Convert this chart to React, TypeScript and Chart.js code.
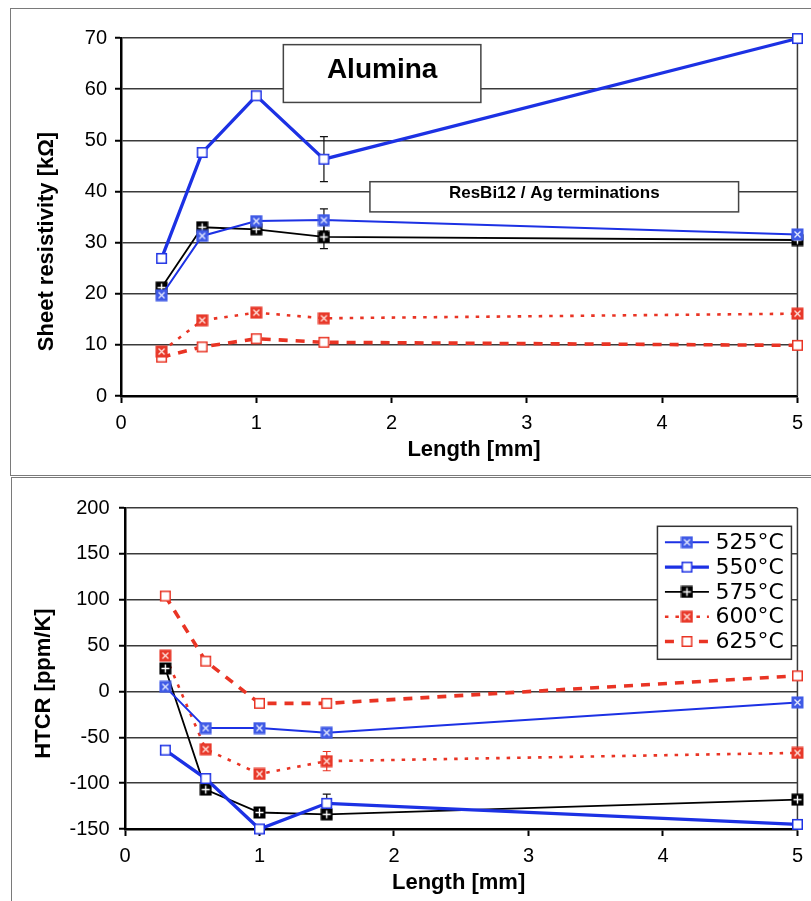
import React, { useEffect, useRef } from 'react';
import { Chart, registerables } from 'chart.js';

Chart.register(...registerables);

// ---------- data ----------
const lengths = [0.3, 0.6, 1, 1.5, 5];
const seriesLabels = ['525°C', '550°C', '575°C', '600°C', '625°C'];

const sheet525 = [19.7, 31.3, 34.2, 34.4, 31.6];
const sheet550 = [26.9, 47.6, 58.7, 46.3, 69.9];
const sheet575 = [21.2, 33.0, 32.6, 31.1, 30.5];
const sheet600 = [8.7, 14.8, 16.3, 15.2, 16.1];
const sheet625 = [7.6, 9.6, 11.2, 10.5, 9.9];

const sheetErr525 = [null, null, null, 2.2, null];
const sheetErr550 = [null, null, null, 4.4, null];
const sheetErr575 = [null, null, null, 2.3, null];
const sheetErr600 = [null, null, null, null, null];
const sheetErr625 = [null, null, null, null, null];

const htcr525 = [5, -40, -40, -45, -12];
const htcr550 = [-64, -95, -150, -122, -145];
const htcr575 = [25, -107, -132, -134, -118];
const htcr600 = [39, -63, -90, -76, -67];
const htcr625 = [104, 33, -13, -13, 17];

const htcrErr525 = [null, null, null, null, null];
const htcrErr550 = [null, null, null, 10, null];
const htcrErr575 = [null, null, null, null, null];
const htcrErr600 = [null, null, null, 10.5, null];
const htcrErr625 = [null, null, null, 4, null];

const xTickRange = { min: 0, max: 5, step: 1 };
const sheetTickRange = { min: 0, max: 70, step: 10 };
const htcrTickRange = { min: -150, max: 200, step: 50 };

const xTitle = 'Length [mm]';
const sheetTitle = 'Sheet resistivity [kΩ]';
const htcrTitle = 'HTCR [ppm/K]';
const topNotes = [
  { text: 'Alumina', x0: 1.2, x1: 2.66, y0: 57.4, y1: 68.7, size: 28 },
  { text: 'ResBi12 / Ag terminations', x0: 1.84, x1: 4.565, y0: 36.0, y1: 41.9, size: 17 },
];

// ---------- styles ----------
const BLUE = '#1c31e4';
const RED = '#e93424';
const BLACK = '#000000';
const FONT = '"Liberation Sans", Arial, Helvetica, sans-serif';
const LEGEND_FONT = '"DejaVu Sans", Verdana, sans-serif';

const seriesStyles = [
  { color: BLUE, width: 2, dash: [] as number[], marker: 'xbox', fill: '#3f5ae6', mark: '#e4e9ff', err: '#111' },
  { color: BLUE, width: 3.3, dash: [] as number[], marker: 'open', fill: '#fff', mark: BLUE, err: '#111' },
  { color: BLACK, width: 1.8, dash: [] as number[], marker: 'plus', fill: '#000', mark: '#fff', err: '#111' },
  { color: RED, width: 2.6, dash: [3.5, 7], marker: 'xbox', fill: '#e8392a', mark: '#ffe2dc', err: RED },
  { color: RED, width: 3.6, dash: [9, 8], marker: 'open', fill: '#fff', mark: RED, err: RED },
];

function makeMarker(kind: string, color: string, fill: string, mark: string) {
  const s = 13;
  const c = document.createElement('canvas');
  c.width = s;
  c.height = s;
  const g = c.getContext('2d')!;
  if (kind === 'open') {
    g.fillStyle = '#fff';
    g.fillRect(1, 1, 11, 11);
    g.strokeStyle = color;
    g.lineWidth = 1.5;
    g.strokeRect(1.75, 1.75, 9.5, 9.5);
  } else {
    g.fillStyle = fill;
    g.fillRect(0.5, 0.5, 12, 12);
    g.strokeStyle = mark;
    g.lineWidth = 1.4;
    g.beginPath();
    if (kind === 'xbox') {
      g.moveTo(3.5, 3.5); g.lineTo(9.5, 9.5);
      g.moveTo(9.5, 3.5); g.lineTo(3.5, 9.5);
    } else {
      g.moveTo(6.5, 2.5); g.lineTo(6.5, 10.5);
      g.moveTo(2.5, 6.5); g.lineTo(10.5, 6.5);
    }
    g.stroke();
  }
  return c;
}

// ---------- plugins ----------
const frameAndErrors = {
  id: 'frameAndErrors',
  beforeDatasetsDraw(chart: any) {
    const { ctx, chartArea } = chart;
    ctx.save();
    ctx.strokeStyle = '#3a3a3a';
    ctx.lineWidth = 1.5;
    ctx.beginPath();
    ctx.moveTo(chartArea.right, chartArea.top);
    ctx.lineTo(chartArea.right, chartArea.bottom);
    ctx.stroke();
    const yScale = chart.scales.y;
    chart.data.datasets.forEach((ds: any, i: number) => {
      const meta = chart.getDatasetMeta(i);
      (ds.errors || []).forEach((e: number | null, j: number) => {
        if (e == null) return;
        const pt = meta.data[j];
        const v = ds.data[j].y;
        const yt = yScale.getPixelForValue(v + e);
        const yb = yScale.getPixelForValue(v - e);
        ctx.strokeStyle = ds.errColor;
        ctx.lineWidth = 1.2;
        ctx.beginPath();
        ctx.moveTo(pt.x, yt); ctx.lineTo(pt.x, yb);
        ctx.moveTo(pt.x - 4, yt); ctx.lineTo(pt.x + 4, yt);
        ctx.moveTo(pt.x - 4, yb); ctx.lineTo(pt.x + 4, yb);
        ctx.stroke();
      });
    });
    ctx.restore();
  },
};

const notesPlugin = {
  id: 'notes',
  beforeDatasetsDraw(chart: any, _args: any, opts: any) {
    if (!opts || !opts.items) return;
    const { ctx } = chart;
    const xs = chart.scales.x;
    const ys = chart.scales.y;
    ctx.save();
    opts.items.forEach((n: any) => {
      const l = xs.getPixelForValue(n.x0);
      const r = xs.getPixelForValue(n.x1);
      const t = ys.getPixelForValue(n.y1);
      const b = ys.getPixelForValue(n.y0);
      ctx.fillStyle = '#fff';
      ctx.fillRect(l, t, r - l, b - t);
      ctx.strokeStyle = '#444';
      ctx.lineWidth = 1.5;
      ctx.strokeRect(l, t, r - l, b - t);
      ctx.fillStyle = '#000';
      ctx.font = `bold ${n.size}px ${FONT}`;
      ctx.textAlign = 'center';
      ctx.textBaseline = 'middle';
      ctx.fillText(n.text, (l + r) / 2, (t + b) / 2 - 3);
    });
    ctx.restore();
  },
};

const axisTitles = {
  id: 'axisTitles',
  afterDraw(chart: any, _args: any, opts: any) {
    if (!opts || !opts.x) return;
    const { ctx, chartArea } = chart;
    ctx.save();
    ctx.fillStyle = '#000';
    ctx.font = `bold 22px ${FONT}`;
    ctx.textAlign = 'center';
    ctx.textBaseline = 'middle';
    ctx.fillText(opts.x, opts.xCenter, chartArea.bottom + 53.5);
    ctx.translate(opts.yX, (chartArea.top + chartArea.bottom) / 2 + opts.yDy);
    ctx.rotate(-Math.PI / 2);
    ctx.fillText(opts.y, 0, 0);
    ctx.restore();
  },
};

const legendPlugin = {
  id: 'boxLegend',
  afterDatasetsDraw(chart: any, _args: any, opts: any) {
    if (!opts || !opts.show) return;
    const { ctx, chartArea } = chart;
    const w = 134;
    const h = 133;
    const right = chartArea.right - 6;
    const left = right - w;
    const top = chartArea.top + 18.3;
    ctx.save();
    ctx.fillStyle = '#fff';
    ctx.fillRect(left, top, w, h);
    ctx.strokeStyle = '#333';
    ctx.lineWidth = 1.5;
    ctx.strokeRect(left, top, w, h);
    chart.data.datasets.forEach((ds: any, i: number) => {
      const cy = top + 16 + i * 24.8;
      ctx.strokeStyle = ds.borderColor;
      ctx.lineWidth = ds.borderWidth;
      ctx.setLineDash(ds.borderDash || []);
      ctx.beginPath();
      ctx.moveTo(left + 7.5, cy);
      ctx.lineTo(left + 51.5, cy);
      ctx.stroke();
      ctx.setLineDash([]);
      const img = ds.pointStyle;
      ctx.drawImage(img, left + 29.5 - img.width / 2, cy - img.height / 2);
      ctx.fillStyle = '#000';
      ctx.font = `22px ${LEGEND_FONT}`;
      ctx.textAlign = 'left';
      ctx.textBaseline = 'middle';
      ctx.fillText(ds.label, left + 58, cy + 1);
    });
    ctx.restore();
  },
};

// ---------- config ----------
function makeDatasets(values: number[][], errors: (number | null)[][], markers: HTMLCanvasElement[]) {
  return values.map((vals, i) => ({
    label: seriesLabels[i],
    data: lengths.map((x, j) => ({ x, y: vals[j] })),
    errors: errors[i],
    errColor: seriesStyles[i].err,
    borderColor: seriesStyles[i].color,
    backgroundColor: seriesStyles[i].color,
    borderWidth: seriesStyles[i].width,
    borderDash: seriesStyles[i].dash,
    pointStyle: markers[i],
    pointRadius: 6,
    pointHoverRadius: 6,
    fill: false,
    tension: 0,
    clip: false as any,
  }));
}

function makeConfig(opts: {
  datasets: any[];
  yRange: { min: number; max: number; step: number };
  yWidth: number;
  xHeight: number;
  padTop: number;
  tickPadY: number;
  titles: any;
  notes?: any;
  legend: boolean;
}): any {
  const tickFont = { family: FONT, size: 20 };
  return {
    type: 'line',
    data: { datasets: opts.datasets },
    plugins: [frameAndErrors, notesPlugin, axisTitles, legendPlugin],
    options: {
      responsive: false,
      animation: false,
      events: [],
      layout: { padding: { left: 0, right: 12, top: opts.padTop, bottom: 0 } },
      plugins: {
        legend: { display: false },
        tooltip: { enabled: false },
        title: { display: false },
        axisTitles: opts.titles,
        notes: opts.notes || {},
        boxLegend: { show: opts.legend },
      },
      scales: {
        x: {
          type: 'linear',
          min: xTickRange.min,
          max: xTickRange.max,
          ticks: { stepSize: xTickRange.step, color: '#000', font: tickFont, padding: 8, maxRotation: 0 },
          grid: { drawOnChartArea: false, drawTicks: true, tickLength: 7, tickColor: '#000', tickWidth: 2 },
          border: { color: '#000', width: 2.5 },
          afterFit(s: any) { s.height = opts.xHeight; },
        },
        y: {
          type: 'linear',
          min: opts.yRange.min,
          max: opts.yRange.max,
          ticks: { stepSize: opts.yRange.step, color: '#000', font: tickFont, padding: opts.tickPadY },
          grid: { color: '#3a3a3a', lineWidth: 1.5, tickLength: 6, tickColor: '#000', tickWidth: 2 },
          border: { color: '#000', width: 2.5 },
          afterFit(s: any) { s.width = opts.yWidth; },
        },
      },
    },
  };
}

export default function App() {
  const topRef = useRef<HTMLCanvasElement>(null);
  const botRef = useRef<HTMLCanvasElement>(null);

  useEffect(() => {
    const markers = seriesStyles.map((s) => makeMarker(s.marker, s.color, s.fill, s.mark));
    const top = new Chart(
      topRef.current!,
      makeConfig({
        datasets: makeDatasets(
          [sheet525, sheet550, sheet575, sheet600, sheet625],
          [sheetErr525, sheetErr550, sheetErr575, sheetErr600, sheetErr625],
          markers
        ),
        yRange: sheetTickRange,
        yWidth: 121,
        xHeight: 79,
        padTop: 38,
        tickPadY: 8,
        titles: { x: xTitle, y: sheetTitle, xCenter: 474, yX: 47, yDy: 24.5 },
        notes: { items: topNotes },
        legend: false,
      })
    );
    const bottom = new Chart(
      botRef.current!,
      makeConfig({
        datasets: makeDatasets(
          [htcr525, htcr550, htcr575, htcr600, htcr625],
          [htcrErr525, htcrErr550, htcrErr575, htcrErr600, htcrErr625],
          markers
        ),
        yRange: htcrTickRange,
        yWidth: 125,
        xHeight: 72,
        padTop: 33,
        tickPadY: 9.5,
        titles: { x: xTitle, y: htcrTitle, xCenter: 458.6, yX: 43.5, yDy: 15 },
        legend: true,
      })
    );
    return () => {
      top.destroy();
      bottom.destroy();
    };
  }, []);

  return (
    <div
      style={{
        position: 'absolute',
        left: 0,
        top: 0,
        width: 811,
        height: 901,
        overflow: 'hidden',
        background: '#fff',
      }}
    >
      <div
        style={{
          position: 'absolute',
          left: 10,
          top: 8,
          width: 900,
          height: 467.5,
          border: '1.5px solid #7a7a7a',
          boxSizing: 'border-box',
        }}
      />
      <div
        style={{
          position: 'absolute',
          left: 11,
          top: 476.5,
          width: 900,
          height: 500,
          border: '1.5px solid #7a7a7a',
          boxSizing: 'border-box',
        }}
      />
      <canvas ref={topRef} width={811} height={475} style={{ position: 'absolute', left: 0, top: 0 }} />
      <canvas ref={botRef} width={811} height={426} style={{ position: 'absolute', left: 0, top: 475 }} />
    </div>
  );
}
